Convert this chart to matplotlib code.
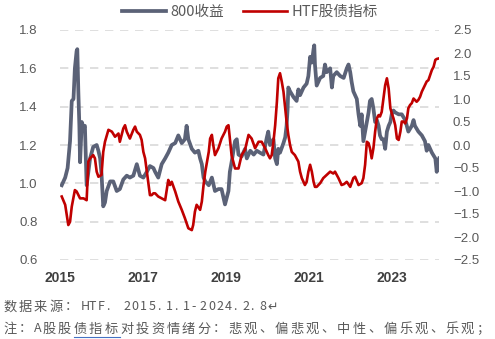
import numpy as np
import matplotlib
matplotlib.use("Agg")
import matplotlib.pyplot as plt
from matplotlib.lines import Line2D

plt.rcParams["font.family"] = ["Noto Sans CJK SC", "DejaVu Sans"]

# months since 2015-01-01 and values
gray_months = [0.5, 1.5, 2.2, 2.9, 3.4, 3.9, 4.3, 4.8, 5.0, 5.3, 5.6, 5.8, 6.3, 6.8, 7.2, 7.7,
               8.2, 8.7, 9.6, 10.6, 11.1, 11.6, 12.0, 12.5, 13.0, 13.5, 14.5, 15.4, 16.4, 17.3,
               18.3, 19.3, 20.2, 21.2, 22.2, 23.1, 24.1, 25.1, 26.0, 27.0, 27.5, 28.4, 29.4,
               30.4, 31.3, 32.3, 33.3, 34.2, 35.2, 36.1, 36.6, 37.1, 38.1, 39.0, 40.0, 40.5,
               41.0, 41.5, 42.0, 43.0, 43.9, 44.8, 45.8, 46.7, 47.7, 48.7, 49.1, 49.6, 50.6,
               51.1, 51.6, 52.5, 53.5, 54.0, 55.0, 56.0, 56.9, 57.8, 58.8, 59.8, 60.2, 60.7,
               61.7, 62.2, 62.7, 63.1, 63.6, 64.6, 65.1, 65.5, 65.8, 66.0, 66.5, 67.5, 68.4,
               68.9, 69.4, 70.4, 71.3, 71.8, 72.3, 72.8, 73.3, 73.5, 73.7, 74.2, 75.2, 76.1,
               76.6, 77.1, 78.1, 78.6, 79.0, 80.0, 81.0, 82.0, 82.9, 83.4, 83.9, 84.3, 84.8,
               85.3, 85.8, 86.3, 86.8, 87.2, 87.7, 88.2, 88.7, 89.2, 89.6, 90.1, 90.6, 91.1,
               91.6, 92.1, 92.5, 93.0, 93.5, 94.0, 94.5, 95.0, 95.5, 95.9, 96.4, 96.9, 97.9,
               98.8, 99.8, 100.7, 101.7, 102.2, 102.6, 103.6, 104.6, 105.5, 106.0, 106.5,
               107.5, 108.5, 108.9, 109.2, 109.6]
gray_vals = [0.99, 1.03, 1.08, 1.22, 1.43, 1.44, 1.60, 1.69, 1.70, 1.48, 1.30, 1.11, 1.32, 1.29,
             1.30, 0.99, 1.06, 1.13, 1.19, 1.20, 1.17, 1.13, 1.05, 0.88, 0.90, 0.96, 1.01, 1.01,
             0.96, 0.97, 1.02, 1.04, 1.03, 1.04, 1.10, 1.04, 1.03, 1.06, 1.09, 1.08, 1.06, 1.03,
             1.10, 1.13, 1.16, 1.20, 1.21, 1.25, 1.21, 1.23, 1.30, 1.23, 1.18, 1.16, 1.17, 1.13,
             1.10, 1.03, 1.01, 0.99, 1.03, 0.96, 0.97, 0.97, 0.89, 0.96, 1.06, 1.11, 1.22, 1.23,
             1.15, 1.14, 1.18, 1.13, 1.17, 1.15, 1.17, 1.16, 1.15, 1.24, 1.27, 1.20, 1.23, 1.13,
             1.10, 1.18, 1.16, 1.21, 1.24, 1.30, 1.39, 1.50, 1.48, 1.45, 1.43, 1.49, 1.46, 1.50,
             1.52, 1.56, 1.66, 1.63, 1.70, 1.72, 1.62, 1.51, 1.55, 1.56, 1.62, 1.58, 1.60, 1.50,
             1.56, 1.58, 1.56, 1.55, 1.60, 1.62, 1.58, 1.53, 1.48, 1.46, 1.44, 1.36, 1.30, 1.36,
             1.22, 1.27, 1.32, 1.37, 1.43, 1.44, 1.39, 1.32, 1.33, 1.30, 1.25, 1.23, 1.23, 1.18,
             1.27, 1.30, 1.32, 1.36, 1.38, 1.37, 1.36, 1.36, 1.33, 1.27, 1.30, 1.33, 1.30, 1.27,
             1.25, 1.22, 1.17, 1.20, 1.16, 1.13, 1.06, 1.11, 1.13]

red_months = [0.5, 1.5, 2.4, 2.9, 3.4, 4.3, 4.8, 5.8, 6.8, 7.7, 8.2, 8.7, 9.6, 10.1, 10.6, 11.1,
              12.0, 12.5, 13.0, 14.0, 15.0, 15.9, 16.9, 17.3, 18.3, 18.8, 19.3, 20.2, 21.2,
              21.7, 22.2, 23.1, 23.6, 24.1, 24.6, 25.1, 25.6, 26.0, 26.5, 27.0, 27.5, 28.4,
              29.4, 30.4, 31.3, 31.8, 32.3, 33.3, 34.2, 35.2, 36.1, 37.1, 38.1, 38.5, 39.0,
              39.5, 40.5, 41.0, 41.5, 42.0, 43.0, 43.4, 43.9, 44.3, 44.8, 45.8, 46.7, 47.7,
              48.2, 48.7, 49.1, 49.6, 50.6, 51.6, 52.5, 53.5, 54.5, 55.4, 56.4, 57.4, 58.3,
              59.3, 60.2, 60.7, 61.2, 61.7, 62.2, 62.7, 63.1, 63.6, 64.1, 64.6, 65.1, 65.5,
              66.0, 66.5, 67.0, 67.9, 68.9, 69.4, 69.9, 70.8, 71.3, 71.8, 72.3, 72.8, 73.3,
              73.7, 74.2, 75.2, 76.1, 77.1, 78.1, 79.0, 79.5, 80.5, 81.4, 82.1, 82.9, 83.9,
              84.8, 85.3, 86.3, 87.2, 87.7, 88.2, 88.7, 89.2, 89.6, 90.1, 90.6, 91.1, 91.6,
              92.1, 92.5, 93.0, 93.5, 94.0, 94.5, 95.0, 95.5, 95.9, 96.4, 96.9, 97.4, 97.9,
              98.4, 98.8, 99.3, 99.8, 100.3, 100.7, 101.2, 101.7, 102.2, 102.6, 103.1, 103.6,
              104.1, 104.6, 105.5, 106.0, 106.5, 107.0, 107.5, 108.0, 108.5, 108.9, 109.4]
red_vals = [-1.12, -1.30, -1.74, -1.67, -1.34, -0.98, -1.01, -1.16, -1.16, -1.20, -0.36, -0.29,
            -0.22, -0.29, -0.58, -0.69, -0.65, -0.15, 0.07, 0.33, 0.29, 0.18, 0.25, 0.07, 0.36,
            0.43, 0.29, 0.14, 0.33, 0.40, 0.29, 0.22, 0.11, -0.15, -0.29, -0.58, -0.87, -1.09,
            -1.09, -1.05, -1.05, -1.12, -1.16, -1.20, -0.76, -0.87, -0.80, -1.01, -1.23, -1.41,
            -1.59, -1.81, -1.85, -1.74, -1.45, -1.30, -1.41, -1.23, -0.87, -0.58, -0.15, 0.14,
            0.22, 0.00, -0.22, -0.07, 0.14, 0.29, 0.40, 0.43, 0.14, -0.22, -0.51, -0.51, -0.22,
            -0.10, 0.22, 0.14, -0.07, 0.07, 0.07, -0.07, -0.22, -0.29, -0.22, 0.07, 0.43, 0.94,
            1.45, 1.56, 1.38, 1.16, 0.80, 0.51, 0.22, 0.00, -0.15, -0.22, -0.36, -0.58, -0.72,
            -0.87, -0.80, -0.58, -0.43, -0.58, -0.80, -0.91, -0.91, -0.83, -0.72, -0.65, -0.58,
            -0.62, -0.58, -0.72, -0.87, -0.85, -0.80, -0.91, -0.72, -0.69, -0.87, -0.83, -0.72,
            -0.43, 0.07, 0.04, -0.07, -0.29, -0.07, 0.29, 0.58, 0.65, 0.62, 0.72, 1.01, 1.30,
            1.45, 1.23, 0.80, 0.69, 0.58, 0.43, 0.14, 0.11, 0.29, 0.51, 0.51, 0.47, 0.58, 0.80,
            0.87, 0.91, 1.01, 0.98, 0.94, 0.98, 1.05, 1.16, 1.30, 1.38, 1.41, 1.52, 1.63, 1.70,
            1.85, 1.87, 1.88]

left_ticks = [0.6, 0.8, 1.0, 1.2, 1.4, 1.6, 1.8]
right_ticks = [-2.5, -2.0, -1.5, -1.0, -0.5, 0.0, 0.5, 1.0, 1.5, 2.0, 2.5]
year_ticks = [2015, 2017, 2019, 2021, 2023]
series_names = ["800收益", "HTF股债指标"]
source_line = "数据来源：HTF. 2015.1.1-2024.2.8\u21b5"
note_line = "注：A股股债指标对投资情绪分：悲观、偏悲观、中性、偏乐观、乐观；"

GRAY = "#5b6277"
RED = "#c00000"
TXT = "#595959"
W, H = 495, 339


def place_chars(fig, text, x_px, y_px, full=15.5, half=8.5):
    """Lay text out on a fixed grid like the Word source (full/half width cells)."""
    xs = []
    for ch in text:
        xs.append(x_px)
        wide = ord(ch) >= 0x2E80
        if ch != " ":
            fig.text(x_px / W, 1 - y_px / H, ch, fontsize=9.5 if wide else 9,
                     color=TXT, ha="left", va="center")
        x_px += full if wide else half
    xs.append(x_px)
    return xs


gray_x = 2015 + np.array(gray_months) / 12
red_x = 2015 + np.array(red_months) / 12

fig = plt.figure(figsize=(W / 100, H / 100), dpi=100)
ax = fig.add_axes([60 / W, 1 - 260 / H, 379 / W, 230 / H])
ax2 = ax.twinx()

ax.plot(gray_x, gray_vals, color=GRAY, lw=2.7, solid_joinstyle="round")
ax2.plot(red_x, red_vals, color=RED, lw=1.9, solid_joinstyle="round")

ax.set_xlim(2015.0, 2024.13)
ax.set_ylim(0.6, 1.8)
ax2.set_ylim(-2.5, 2.5)
ax.set_yticks(left_ticks)
ax.set_yticklabels([f"{t:.1f}" for t in left_ticks])
ax2.set_yticks(right_ticks)
ax2.set_yticklabels([f"{t:.1f}".replace("-", "\u2212") for t in right_ticks])
ax.set_xticks(year_ticks)
ax.set_xticklabels([str(y) for y in year_ticks], fontweight="bold",
                   family="Liberation Sans", fontsize=10, color="#404040")

ax.grid(axis="y", color="#d9d9d9", lw=1.2, ls=(0, (5, 4)))
ax.set_axisbelow(True)
for a in (ax, ax2):
    for s in a.spines.values():
        s.set_visible(False)
    a.tick_params(length=0)
for lab in ax.get_yticklabels() + ax2.get_yticklabels():
    lab.set_family("Liberation Sans")
    lab.set_fontsize(9.5)
    lab.set_color(TXT)
ax.tick_params(axis="y", pad=16)
ax.tick_params(axis="x", pad=8)
ax2.tick_params(axis="y", pad=10)
ax2.set_zorder(ax.get_zorder() + 1)

handles = [Line2D([], [], color=GRAY, lw=2.7), Line2D([], [], color=RED, lw=1.9)]
fig.legend(handles, series_names, loc="upper center", ncol=2,
           bbox_to_anchor=(0.505, 1.025), frameon=False, fontsize=10.5,
           handlelength=3.0, columnspacing=1.3, handletextpad=0.3, labelcolor=TXT)

# footnotes
place_chars(fig, source_line, 3, 307)
xs = place_chars(fig, note_line, 3, 329)
i0 = note_line.index("债指标")
fig.add_artist(Line2D([xs[i0] / W, xs[i0 + 3] / W], [1 - 337 / H] * 2,
                      color="#4472c4", lw=0.8))

fig.savefig("out.png", dpi=100)
